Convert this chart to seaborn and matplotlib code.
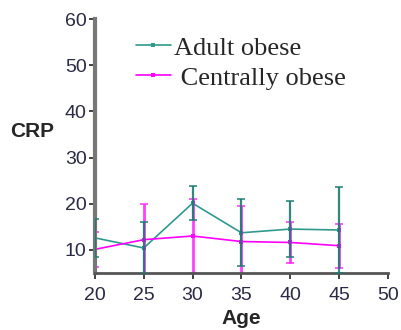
import matplotlib
matplotlib.use("Agg")
import matplotlib.pyplot as plt
import seaborn as sns
import pandas as pd

ages = [20, 25, 30, 35, 40, 45]
adult_obese = [12.6, 10.4, 20.1, 13.7, 14.5, 14.3]
adult_err = [4.1, 5.6, 3.7, 7.3, 6.1, 9.3]
central_obese = [10.1, 12.2, 13.0, 11.8, 11.6, 10.9]
central_err = [3.8, 7.8, 8.0, 7.7, 4.5, 4.8]
xticks = [20, 25, 30, 35, 40, 45, 50]
yticks = [10, 20, 30, 40, 50, 60]

teal = "#2E9A8E"
magenta = "#FF00FF"

sns.set_style("ticks")
fig = plt.figure(figsize=(4.02, 3.30), dpi=100)
ax = fig.add_axes([0.236, 0.173, 0.729, 0.769])

df = pd.DataFrame({
    "Age": ages * 2,
    "CRP": adult_obese + central_obese,
    "Group": ["Adult obese"] * len(ages) + ["Centrally obese"] * len(ages),
})

sns.lineplot(data=df, x="Age", y="CRP", hue="Group",
             palette={"Adult obese": teal, "Centrally obese": magenta},
             marker="s", markersize=3.5, markeredgewidth=0, linewidth=1.2, ax=ax)

ax.errorbar(ages, central_obese, yerr=central_err, fmt="none", ecolor=magenta,
            elinewidth=2.0, capsize=3, capthick=1.2, alpha=0.75, zorder=2)
ax.errorbar(ages, adult_obese, yerr=adult_err, fmt="none", ecolor="#1C7A70",
            elinewidth=1.6, capsize=3, capthick=1.2, alpha=0.9, zorder=3)

ax.set_xlim(20, 50)
ax.set_ylim(5, 60)
ax.set_xticks(xticks)
ax.set_yticks(yticks)
ax.tick_params(axis="both", labelsize=14, colors="#222", direction="out", length=4, width=1.2,
               labelcolor="#2a2a44")
ax.tick_params(axis="x", pad=6)
ax.tick_params(axis="y", pad=2)
for lab in ax.get_xticklabels() + ax.get_yticklabels():
    lab.set_fontfamily("Liberation Sans")

ax.spines["left"].set_color("#777")
ax.spines["left"].set_linewidth(3)
ax.spines["bottom"].set_color("#555")
ax.spines["bottom"].set_linewidth(2)
sns.despine(ax=ax)

ax.set_xlabel("Age", fontsize=15, fontweight="bold", family="Liberation Sans", labelpad=4)
ax.set_ylabel("")
fig.text(0.025, 0.585, "CRP", fontsize=15, fontweight="bold", family="Liberation Sans")

handles, labels = ax.get_legend_handles_labels()
labels = [l if i == 0 else " " + l for i, l in enumerate(labels)]
ax.legend(handles, labels, loc="upper left", bbox_to_anchor=(0.105, 0.975), frameon=False,
          prop={"family": "Liberation Serif", "size": 19}, handlelength=1.3,
          handletextpad=0.15, labelspacing=0.25, borderaxespad=0)

fig.savefig("out.png", dpi=100)
